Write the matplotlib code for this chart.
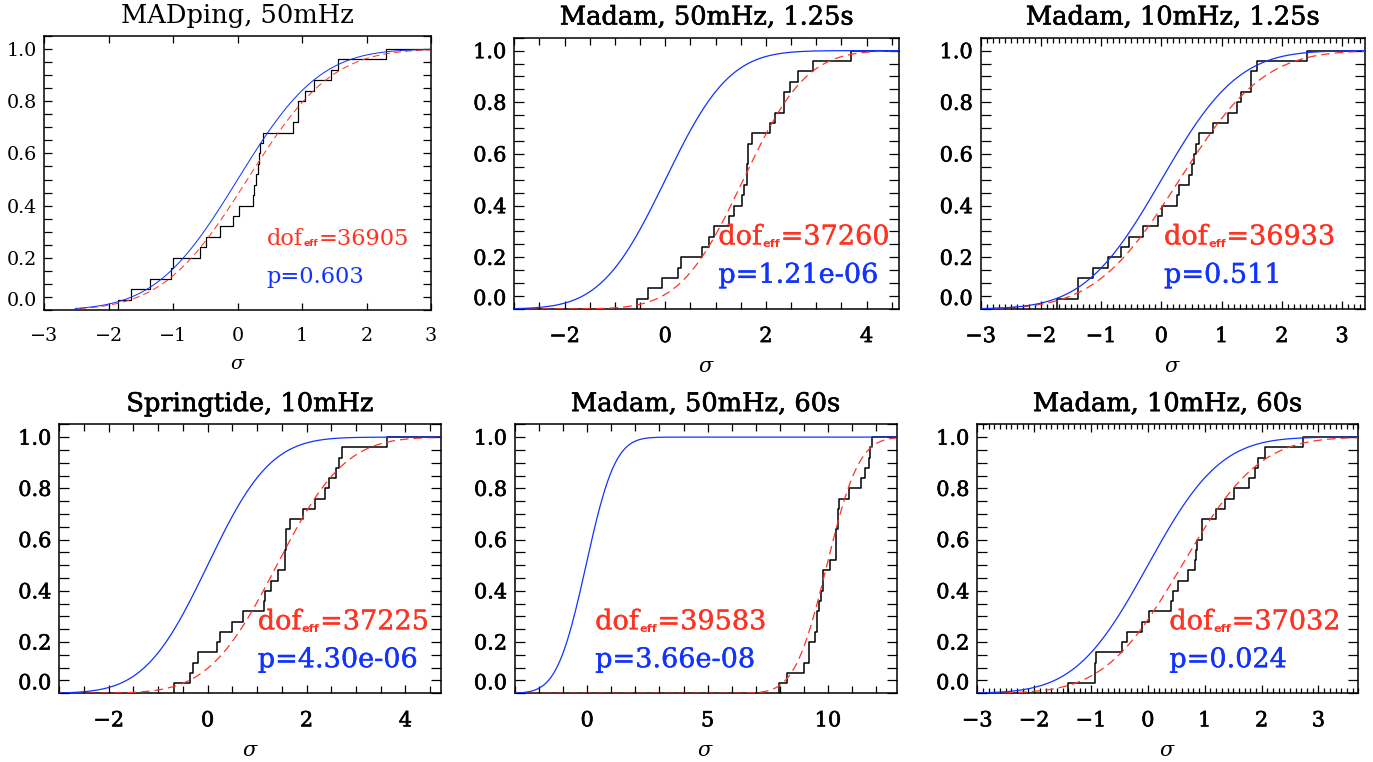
import math
import numpy as np
import matplotlib
matplotlib.use('Agg')
import matplotlib.pyplot as plt
import matplotlib.patheffects as pe
from matplotlib.ticker import MultipleLocator

plt.rcParams['font.family'] = 'DejaVu Serif'
plt.rcParams['mathtext.fontset'] = 'dejavuserif'
plt.rcParams['lines.scale_dashes'] = False

RED = '#ff3322'
BLUE = '#1133ff'

# panel titles
titles = ['MADping, 50mHz', 'Madam, 50mHz, 1.25s', 'Madam, 10mHz, 1.25s',
          'Springtide, 10mHz', 'Madam, 50mHz, 60s', 'Madam, 10mHz, 60s']

# measured deviations (in sigma), 25 per case
madping_50 = [-1.852, -1.655, -1.360, -1.039, -0.998, -0.584, -0.491, -0.268, -0.077, 0.021,
              0.238, 0.254, 0.285, 0.311, 0.332, 0.347, 0.389, 0.864, 0.932, 0.932,
              1.045, 1.190, 1.444, 1.563, 2.297]
madam_50_125 = [-0.562, -0.351, -0.066, 0.251, 0.311, 0.728, 0.873, 0.966, 1.257, 1.362,
                1.521, 1.561, 1.620, 1.620, 1.653, 1.653, 1.720, 2.090, 2.183, 2.368,
                2.368, 2.480, 2.646, 2.930, 3.684]
madam_10_125 = [-1.734, -1.391, -1.391, -1.131, -0.882, -0.678, -0.539, -0.301, -0.053, 0.014,
                0.252, 0.290, 0.451, 0.506, 0.545, 0.567, 0.628, 0.860, 1.109, 1.247,
                1.314, 1.480, 1.480, 1.579, 2.409]
springtide_10 = [-0.677, -0.359, -0.291, -0.189, 0.189, 0.257, 0.494, 0.724, 1.137, 1.164,
                 1.272, 1.421, 1.570, 1.570, 1.590, 1.590, 1.658, 1.928, 2.165, 2.382,
                 2.456, 2.605, 2.652, 2.720, 3.620]
madam_50_60 = [7.964, 8.280, 9.020, 9.210, 9.210, 9.460, 9.530, 9.530, 9.640, 9.720,
               9.770, 9.770, 10.080, 10.330, 10.330, 10.330, 10.400, 10.400, 10.460, 10.870,
               11.360, 11.550, 11.680, 11.750, 11.830]
madam_10_60 = [-1.399, -0.930, -0.925, -0.915, -0.460, -0.361, -0.097, 0.015, 0.402, 0.449,
               0.525, 0.713, 0.830, 0.842, 0.855, 0.947, 0.947, 1.193, 1.358, 1.522,
               1.780, 1.886, 1.944, 2.062, 2.736]
samples = [madping_50, madam_50_125, madam_10_125, springtide_10, madam_50_60, madam_10_60]

# gaussian models: nominal (blue) and effective dof (red), as (mean, width)
nominal = [(0.0, 1.0), (0.0, 1.0), (0.0, 1.0), (0.0, 1.0), (-0.05, 0.95), (0.0, 1.0)]
effective = [(0.15, 1.03), (1.55, 0.98), (0.30, 1.10), (1.40, 1.08), (9.95, 1.05), (0.60, 1.07)]

dof_eff = ['36905', '37260', '36933', '37225', '39583', '37032']
pvals = ['0.603', '1.21e-06', '0.511', '4.30e-06', '3.66e-08', '0.024']

# axis setup per panel
xlims = [(-3, 3), (-3, 4.65), (-3, 3.38), (-3, 4.72), (-3, 12.85), (-3, 3.70)]
xmajor = [1, 2, 1, 2, 5, 1]
xminor = [None, 0.5, 0.1, 0.5, 1, 0.1]
curve_start = [(-2.52, -2.45), None, None, None, None, None]
text_x = [0.575, 0.53, 0.477, 0.52, 0.21, 0.504]

# axes boxes in pixels (left, top, right, bottom)
W, H = 1373, 762
boxes = [(44.3, 36, 431, 310), (514.3, 37.7, 899.3, 309), (980.7, 37.7, 1365, 309),
         (59.3, 424.3, 441, 693.3), (515, 424.3, 896.7, 693.3), (977.3, 424.3, 1358.3, 693.3)]


def gauss_cdf(x, mu, s):
    return np.array([0.5 * (1 + math.erf((v - mu) / (s * math.sqrt(2)))) for v in x])


def stroke(w, c):
    return [pe.withStroke(linewidth=w, foreground=c)] if w else []


fig = plt.figure(figsize=(W / 100, H / 100), dpi=100)

for i in range(6):
    l, t, r, b = boxes[i]
    ax = fig.add_axes([l / W, 1 - b / H, (r - l) / W, (b - t) / H])
    # the first panel was made with smaller, lighter lettering
    if i == 0:
        s_tick, s_title, s_ann, s_line, heavy = 0.92, 1.0, 0.83, 0.8, 0.0
    else:
        s_tick, s_title, s_ann, s_line, heavy = 1.0, 1.0, 1.0, 1.0, 0.45
    thick = stroke(heavy, 'black')

    xs = np.sort(np.array(samples[i]))
    n = len(xs)
    lev = np.arange(1, n + 1) / n
    ax.step(np.r_[xs[0], xs, xlims[i][1]], np.r_[0, lev, 1.0], where='post',
            color='black', lw=1.1 * s_line, zorder=2)

    if curve_start[i] is None:
        bx0 = rx0 = xlims[i][0]
    else:
        bx0, rx0 = curve_start[i]
    xr = np.linspace(rx0, xlims[i][1], 500)
    xb = np.linspace(bx0, xlims[i][1], 500)
    ax.plot(xr, gauss_cdf(xr, *effective[i]), color=RED, lw=0.9 * s_line,
            dashes=(6.2 * s_line, 3.6 * s_line), zorder=3)
    ax.plot(xb, gauss_cdf(xb, *nominal[i]), color=BLUE, lw=0.9 * s_line, zorder=4)

    ax.set_xlim(*xlims[i])
    ax.set_ylim(0, 1.05)
    ax.xaxis.set_major_locator(MultipleLocator(xmajor[i]))
    if xminor[i] is not None:
        ax.xaxis.set_minor_locator(MultipleLocator(xminor[i]))
    ax.set_yticks([0, 0.2, 0.4, 0.6, 0.8, 1.0])
    ax.set_yticklabels(['0.0', '0.2', '0.4', '0.6', '0.8', '1.0'])
    ax.yaxis.set_minor_locator(MultipleLocator(0.05))

    fs = 15 * s_tick
    ax.tick_params(axis='both', which='both', direction='in', top=True, right=True,
                   width=0.9, colors='black')
    ax.tick_params(axis='y', which='both', length=7 * s_line, pad=5.5, labelsize=fs)
    ax.tick_params(axis='x', which='major', length=6 * s_line, pad=13 * s_tick, labelsize=fs)
    ax.tick_params(axis='x', which='minor', length=3.5 if xminor[i] == 0.1 else 5)
    for lab in ax.get_xticklabels() + ax.get_yticklabels():
        lab.set_path_effects(thick)
    ax.yaxis.get_major_ticks()[0].label1.set_verticalalignment('bottom')
    for sp in ax.spines.values():
        sp.set_linewidth(1.1)

    ax.set_xlabel(r'$\sigma$', fontsize=15 * s_tick, labelpad=8 * s_tick)
    ax.set_title(titles[i], fontsize=18.5 * s_title, pad=9.5 * s_title, path_effects=thick)

    # annotations
    afs = 19.5 * s_ann
    t1 = ax.text(text_x[i], 0.238, 'dof', transform=ax.transAxes, color=RED,
                 fontsize=afs, ha='left', va='baseline', path_effects=stroke(heavy * 0.6, RED))
    t2 = ax.annotate('eff', xy=(1, 0), xycoords=t1, xytext=(0.3, 1.2),
                     textcoords='offset points', color=RED, fontsize=afs * 0.42,
                     family='DejaVu Sans', weight='bold', ha='left', va='bottom')
    ax.annotate('=' + dof_eff[i], xy=(1, 0), xycoords=(t2, t1), xytext=(0.3, 0),
                textcoords='offset points', color=RED, fontsize=afs,
                ha='left', va='bottom', path_effects=stroke(heavy * 0.6, RED))
    ax.text(text_x[i], 0.097, 'p=' + pvals[i], transform=ax.transAxes, color=BLUE,
            fontsize=afs, ha='left', va='baseline', path_effects=stroke(heavy * 0.6, BLUE))

fig.savefig('out.png', dpi=100)
